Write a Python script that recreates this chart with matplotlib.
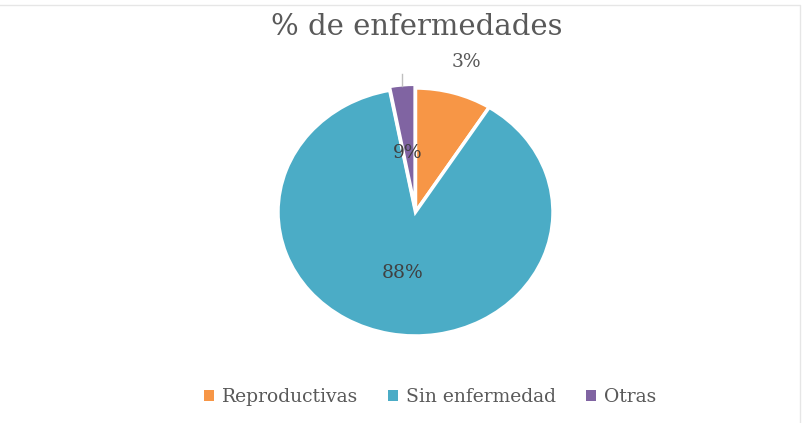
import matplotlib
matplotlib.use("Agg")
import matplotlib.pyplot as plt
from matplotlib.patches import Patch

categories = ["Reproductivas", "Sin enfermedad", "Otras"]
values = [9, 88, 3]
labels_txt = ["9%", "88%", "3%"]
colors = ["#F79646", "#4BACC6", "#8064A2"]

W, H = 806, 423
fig = plt.figure(figsize=(W / 100, H / 100), dpi=100)

def fx(px):
    return px / W

def fy(py):
    return 1 - py / H

# pie bounding box in pixels (slightly squashed ellipse, as in the reference)
left, top, right, bottom = 278, 88, 553, 336
ax = fig.add_axes([fx(left), fy(bottom), (right - left) / W, (bottom - top) / H])
ax.pie(values, colors=colors, startangle=90, counterclock=False,
       radius=1, explode=[0, 0, 0.03],
       wedgeprops=dict(edgecolor="white", linewidth=2.5))
ax.set_aspect("auto")
ax.set_xlim(-1, 1)
ax.set_ylim(-1, 1)
ax.axis("off")

font = "DejaVu Serif"
tc = "#595959"
fig.text(fx(408), fy(153), labels_txt[0], ha="center", va="center", fontsize=13.5, color="#404040", family=font)
fig.text(fx(403), fy(273), labels_txt[1], ha="center", va="center", fontsize=13.5, color="#404040", family=font)
fig.text(fx(466), fy(62), labels_txt[2], ha="center", va="center", fontsize=13.5, color=tc, family=font)
fig.add_artist(plt.Line2D([fx(402), fx(402)], [fy(74), fy(86)], color="#BFBFBF", lw=1))

fig.text(fx(417), fy(27), "% de enfermedades", ha="center", va="center", fontsize=21, color=tc, family=font)

handles = [Patch(facecolor=c, edgecolor="none") for c in colors]
leg = fig.legend(handles, categories, loc="center", bbox_to_anchor=(fx(430), fy(397)),
                 ncol=3, frameon=False, handlelength=0.55, handleheight=0.55,
                 columnspacing=1.6, handletextpad=0.4,
                 prop=dict(family=font, size=13.5))
for t in leg.get_texts():
    t.set_color(tc)

# light border
fig.add_artist(plt.Line2D([0, fx(800), fx(800)], [fy(5), fy(5), 0], color="#E6E6E6", lw=1))

fig.savefig("out.png", dpi=100, facecolor="white")
